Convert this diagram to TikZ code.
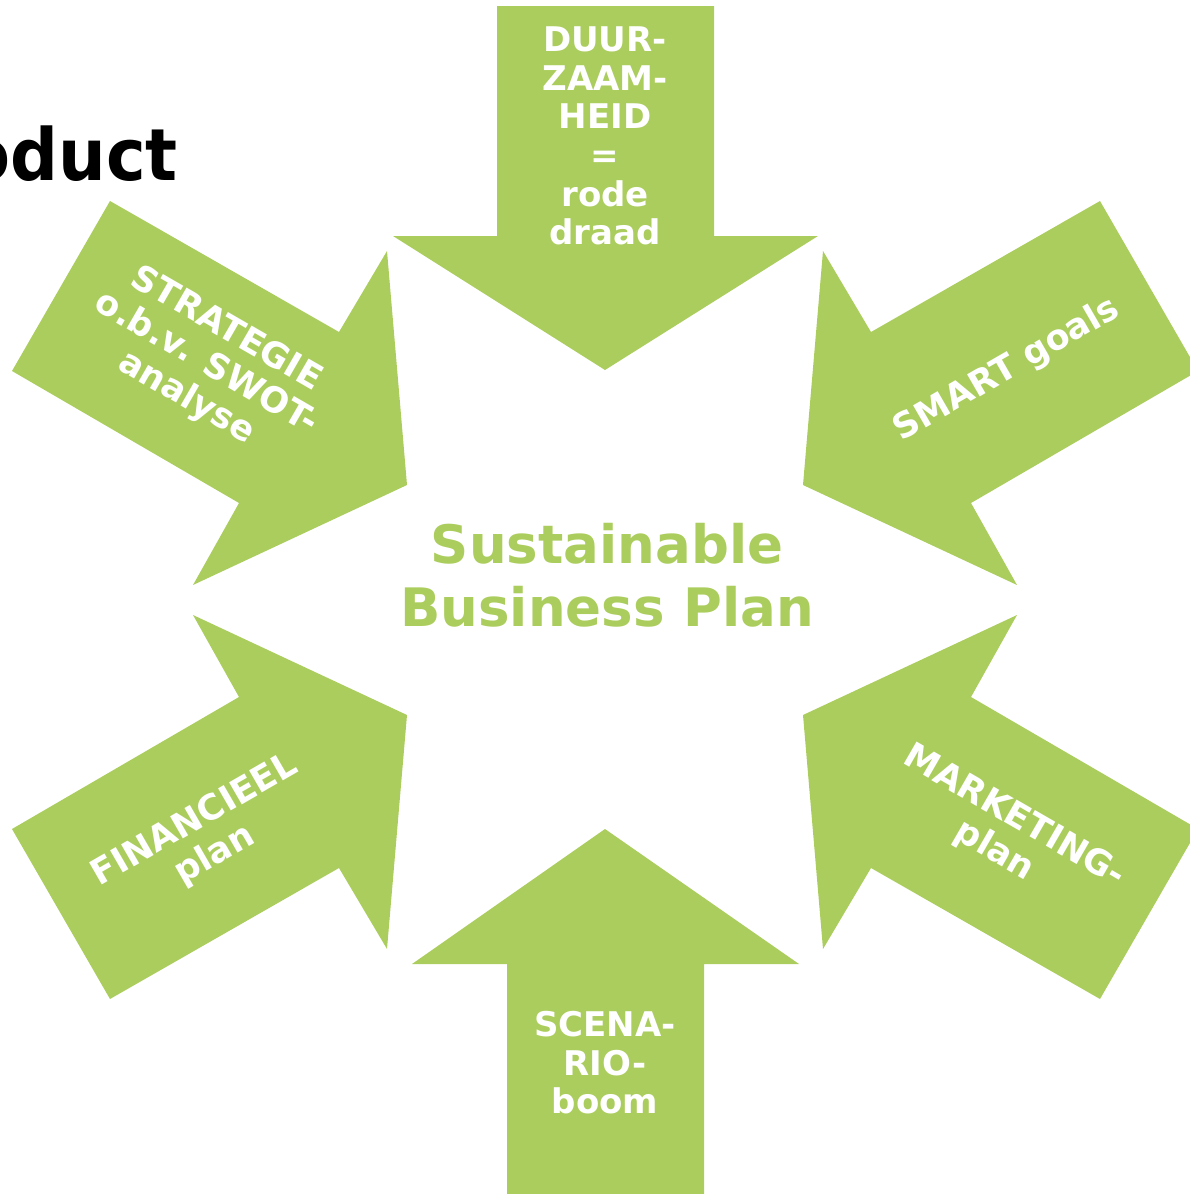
\documentclass[tikz,border=0pt]{standalone}
\usepackage{fontspec}
\setmainfont{DejaVu Sans}
\newfontfamily\titlefont{DejaVu Sans}[FakeStretch=0.93]
\definecolor{sgreen}{RGB}{171,205,93}
\begin{document}
\begin{tikzpicture}[x=1pt,y=-1pt,
  arrowshape/.style={fill=sgreen, draw=none},
  lbl/.style={text=white, font=\bfseries\fontsize{34}{38.6}\selectfont, align=center, inner sep=0pt},
  rlbl/.style={text=white, font=\bfseries\fontsize{35}{39.5}\selectfont, align=center, inner sep=0pt},
  centerlbl/.style={text=sgreen, font=\bfseries\fontsize{53}{63}\selectfont, align=center, inner sep=0pt},
  titlelbl/.style={text=black, font=\titlefont\bfseries\fontsize{72}{80}\selectfont, inner sep=0pt}]
\useasboundingbox (0,0) rectangle (1190,1194);
\clip (0,0) rectangle (1190,1194);

% arrows
\fill[arrowshape] (497,6) -- (714,6) -- (714,236) -- (818,236) -- (605,370) -- (393,236) -- (497,236) -- cycle;
\fill[arrowshape] (507,1200) -- (704,1200) -- (704,964) -- (799,964) -- (605,829) -- (412,964) -- (507,964) -- cycle;
\fill[arrowshape] (110,201) -- (339,332) -- (387,251) -- (407,485) -- (193,585) -- (239,503) -- (12,371) -- cycle;
\fill[arrowshape] (1100,201) -- (871,332) -- (823,251) -- (803,485) -- (1017,585) -- (971,503) -- (1198,371) -- cycle;
\fill[arrowshape] (110,999) -- (339,868) -- (387,949) -- (407,715) -- (193,615) -- (239,697) -- (12,829) -- cycle;
\fill[arrowshape] (1100,999) -- (871,868) -- (823,949) -- (803,715) -- (1017,615) -- (971,697) -- (1198,829) -- cycle;

% title fragment
\node[titlelbl, anchor=base east] (title) at (178,180) {oduct};

% labels
\node[lbl] (top) at (605,136) {DUUR-\\ZAAM-\\HEID\\=\\rode\\draad};
\node[lbl] (bottom) at (605,1063) {SCENA-\\RIO-\\boom};
\node[rlbl, rotate=-30] (strat) at (206,364) {STRATEGIE\\o.b.v. SWOT-\\analyse};
\node[rlbl, rotate=30] (smart) at (1007,370) {SMART goals};
\node[rlbl, rotate=30] (fin) at (205,838) {FINANCIEEL\\plan};
\node[rlbl, rotate=-30] (mark) at (1004,834) {MARKETING-\\plan};

% centre
\node[centerlbl] (centre) at (607,575) {Sustainable\\Business Plan};
\end{tikzpicture}
\end{document}
